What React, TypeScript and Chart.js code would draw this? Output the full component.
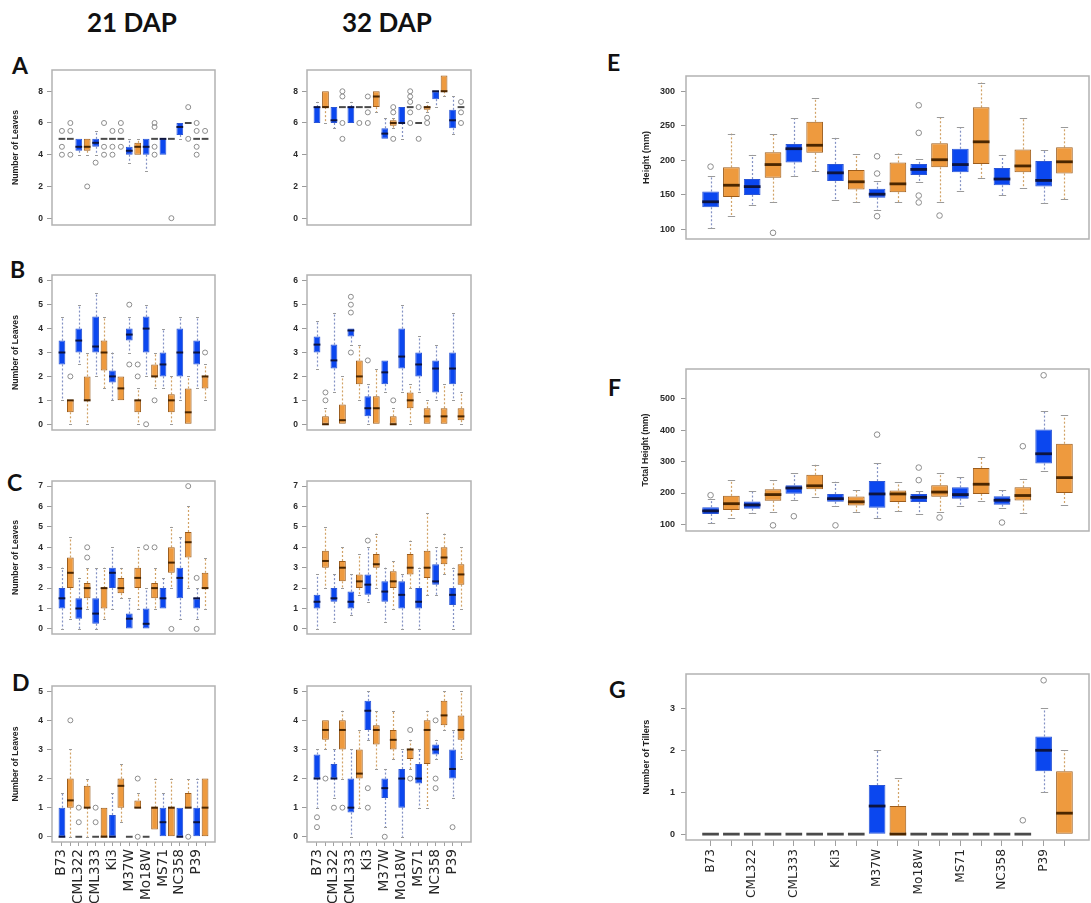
import React, { useEffect, useRef } from 'react';
import { Chart, registerables } from 'chart.js';

Chart.register(...registerables);
Chart.defaults.font.family = 'Liberation Sans';

type Box = [number, number, number, number, number]; // [low whisker, q1, median, q3, high whisker]

// Genotypes: each has a blue (control) and orange (treated) box, in that order
const genotypes = ['B73', 'CML322', 'CML333', 'Ki3', 'M37W', 'Mo18W', 'MS71', 'NC358', 'P39'];

// ---------- Panel A : Number of Leaves ----------
const leavesA21: Box[] = [
  [5, 5, 5, 5, 5], [5, 5, 5, 5, 5], [4, 4.25, 4.5, 5, 5], [4, 4.25, 4.5, 5, 5],
  [4, 4.5, 4.75, 5, 5.5], [5, 5, 5, 5, 5], [5, 5, 5, 5, 5], [5, 5, 5, 5, 5],
  [3.5, 4, 4.25, 4.5, 5], [4, 4, 4.5, 4.75, 5], [3, 4, 4.5, 5, 5], [5, 5, 5, 5, 5],
  [4, 4, 5, 5, 5], [5, 5, 5, 5, 5], [5, 5.25, 5.75, 6, 6], [6, 6, 6, 6, 6],
  [5, 5, 5, 5, 5], [5, 5, 5, 5, 5],
];
const outA21: number[][] = [
  [5.5, 4.5, 4], [6, 5.5, 4], [], [2], [3.5], [6, 4.5, 4], [5.5, 4.5, 4], [6, 5.5, 4.5],
  [], [], [], [6, 5.75, 4.5, 4], [], [0], [], [7, 5], [6, 5.5, 4.5, 4], [5.5],
];
const leavesA32: Box[] = [
  [6, 6, 7, 7, 7.33], [6, 7, 7, 8, 8], [5.67, 6, 6.17, 7, 7], [7, 7, 7, 7, 7],
  [6, 6, 7, 7, 7.33], [7, 7, 7, 7, 7], [7, 7, 7, 7, 7], [6.67, 7, 7.67, 8, 8],
  [5, 5, 5.33, 5.67, 6.33], [5.67, 5.83, 6, 6.17, 6.33], [5, 6, 6, 7, 7], [7, 7, 7, 7, 7],
  [6, 6, 6, 6, 6], [6.67, 6.83, 7, 7, 7.33], [7, 7.5, 8, 8, 8], [7.67, 8, 8, 9, 9],
  [5.33, 5.67, 6.17, 6.83, 7.67], [7, 7, 7, 7, 7],
];
const outA32: number[][] = [
  [], [], [], [8, 7.67, 6, 5], [], [6], [7.67, 6.67, 6], [], [], [7, 6.67, 5], [],
  [8, 7.67, 7.33, 6.67, 6], [7, 5], [6.33, 6], [], [], [], [7.33, 6.67, 6],
];

// ---------- Panel B ----------
const leavesB21: Box[] = [
  [1, 2.5, 3, 3.5, 4.5], [0, 0.5, 1, 1, 1], [2.5, 3, 3.5, 4, 5], [0, 1, 1, 2, 3],
  [2, 3, 3.25, 4.5, 5.5], [1.5, 2.25, 3, 3.5, 4.5], [1, 1.75, 2, 2.25, 3], [1, 1, 1.5, 2, 2],
  [3, 3.5, 3.75, 4, 4.5], [0, 0.5, 1, 1, 1.5], [2, 3, 4, 4.5, 5], [1.5, 2, 2, 2.5, 3],
  [1.5, 2, 2.5, 3, 4], [0, 0.5, 1, 1.25, 2], [1, 2, 3, 4, 4.5], [0, 0, 0.5, 1.5, 2],
  [1.5, 2.5, 3, 3.5, 4.5], [1, 1.5, 2, 2, 2.5],
];
const outB21: number[][] = [
  [], [2], [], [], [], [], [], [], [5, 2.5], [2.5, 2], [0], [1], [], [], [], [], [], [3],
];
const leavesB32: Box[] = [
  [2.33, 3, 3.33, 3.67, 4.33], [0, 0, 0, 0.33, 0.67], [1.33, 2.33, 2.67, 3.33, 4.67], [0, 0, 0.17, 0.83, 2],
  [3.33, 3.67, 3.92, 4, 4], [1, 1.67, 2, 2.67, 3.33], [0, 0.33, 0.67, 1.17, 1.67], [0, 0, 0.67, 1.17, 2.33],
  [1.33, 1.67, 2.17, 2.67, 2.67], [0, 0, 0, 0.33, 0.67], [1.33, 2.33, 2.83, 4, 5], [0, 0.67, 1, 1.33, 1.67],
  [1.33, 2, 2.5, 3, 3.67], [0, 0, 0.33, 0.67, 1], [1, 1.33, 2.33, 2.67, 3.33], [0, 0, 0.33, 0.67, 1.67],
  [1, 1.67, 2.33, 3, 4.67], [0, 0.17, 0.33, 0.67, 1.33],
];
const outB32: number[][] = [
  [], [1.33, 1], [], [], [5.33, 5, 4.67, 3], [], [2.67], [], [], [1], [], [], [], [], [], [], [], [],
];

// ---------- Panel C ----------
const leavesC21: Box[] = [
  [0, 1, 1.5, 2, 3], [0.5, 2, 2.75, 3.5, 4.5], [0, 0.5, 1, 1.5, 2.5], [1, 1.5, 2, 2.25, 3],
  [0, 0.25, 0.75, 1.5, 3], [0.5, 1, 2, 2, 3], [1, 2, 2.75, 3, 4], [1.5, 1.75, 2, 2.5, 3],
  [0, 0, 0.5, 0.75, 1.5], [1, 2, 2.5, 3, 4], [0, 0, 0.25, 1, 2], [1, 1.5, 2, 2.25, 3],
  [1, 1, 1.5, 2, 2.5], [2, 2.75, 3.25, 4, 5], [0.5, 1.5, 2.5, 3, 4.5], [2, 3.5, 4.25, 4.75, 6],
  [0.5, 1, 1.5, 1.5, 2], [1, 2, 2, 2.75, 3.5],
];
const outC21: number[][] = [
  [], [], [], [4, 3.5], [], [], [], [], [], [], [4], [4], [], [0], [], [7], [2.5, 0], [],
];
const leavesC32: Box[] = [
  [0, 1, 1.33, 1.67, 2.67], [2, 3, 3.33, 3.83, 5], [0.33, 1.33, 1.5, 2, 2.67], [2, 2.33, 3, 3.33, 4],
  [0.67, 1, 1.33, 1.83, 2.67], [1.67, 2, 2.33, 2.67, 3.67], [1.33, 1.67, 2.17, 2.67, 4], [2, 3, 3.17, 3.67, 4.67],
  [0.33, 1.33, 1.83, 2.33, 3], [1, 2, 2.33, 2.83, 3.33], [0, 1, 1.67, 2.33, 2.67], [2, 2.67, 3, 3.67, 4.33],
  [0, 1, 1.33, 2, 3], [1.67, 2.5, 3, 3.83, 5.67], [1.67, 2.17, 2.33, 3.17, 4], [2.67, 3.17, 3.5, 4, 4.67],
  [0, 1.17, 1.67, 2, 3], [1, 2.17, 2.67, 3.17, 4],
];
const outC32: number[][] = [
  [], [], [], [], [], [], [4.33], [], [], [], [], [], [], [], [], [], [], [],
];

// ---------- Panel D ----------
const leavesD21: Box[] = [
  [0, 0, 0, 1, 1.5], [0, 1, 1.25, 2, 3], [0, 0, 0, 0, 0], [0, 1, 1, 1.75, 2],
  [0, 0, 0, 0, 0], [0, 0, 0, 1, 1], [0, 0, 0, 0.75, 1.5], [0.5, 1, 1.75, 2, 2.5],
  [0, 0, 0, 0, 0], [1, 1, 1, 1.25, 1.5], [0, 0, 0, 0, 0], [0.25, 0.25, 1, 1, 2],
  [0, 0, 0.5, 1, 1.5], [0, 0, 1, 1, 2], [0, 0, 0, 1, 1], [1, 1, 1, 1.5, 2],
  [0, 0, 0.5, 1, 2], [0, 0, 1, 2, 2],
];
const outD21: number[][] = [
  [], [4], [1, 0.5], [], [1, 0.5], [], [], [], [], [2, 0], [], [], [], [], [], [0], [], [],
];
const leavesD32: Box[] = [
  [1, 2, 2, 2.83, 3], [3, 3.33, 3.67, 4, 4], [1.33, 2, 2, 2.5, 3], [2, 3, 3.67, 4, 4.33],
  [0, 0.83, 1, 2, 3], [1, 2, 2.17, 3, 3.67], [3.33, 3.67, 4.33, 4.67, 5], [2.33, 3.17, 3.67, 3.83, 4.33],
  [0.33, 1.33, 1.67, 2, 2.33], [2.67, 3, 3.33, 3.67, 4.33], [0, 1, 2, 2.33, 3], [2.33, 2.67, 3, 3, 3.33],
  [1, 1.83, 2, 2.5, 3], [1, 2.5, 3.67, 4, 4.33], [2.67, 2.83, 3, 3.17, 3.33], [3.67, 3.83, 4.17, 4.67, 5],
  [1.33, 2, 2.33, 3, 3.67], [2.67, 3.33, 3.67, 4.17, 5],
];
const outD32: number[][] = [
  [0.67, 0.33], [2], [1], [1], [], [], [1.67, 1], [], [0], [], [], [3.67, 2], [], [], [4, 2, 1.67], [], [0.33], [],
];

// ---------- Panel E : Height (mm) ----------
const heightE: Box[] = [
  [102, 132, 140, 155, 178], [119, 147, 164, 190, 239], [136, 150, 162, 173, 208], [139, 175, 194, 212, 238],
  [178, 197, 217, 224, 261], [184, 211, 222, 256, 290], [142, 170, 182, 195, 233], [139, 158, 169, 186, 209],
  [128, 146, 151, 159, 170], [139, 154, 166, 197, 210], [168, 179, 187, 195, 202], [140, 190, 201, 225, 263],
  [155, 183, 194, 217, 248], [175, 195, 227, 277, 313], [150, 164, 173, 189, 208], [160, 183, 192, 216, 261],
  [138, 162, 171, 199, 215], [144, 181, 198, 219, 248],
];
const outE: number[][] = [
  [191], [], [], [95], [], [], [], [], [206, 181, 119], [], [280, 240, 149, 139], [120], [], [], [], [], [], [],
];

// ---------- Panel F : Total Height (mm) ----------
const totalF: Box[] = [
  [104, 133, 143, 155, 181], [121, 146, 166, 191, 241], [136, 150, 162, 173, 208], [139, 175, 195, 212, 240],
  [179, 198, 216, 225, 263], [186, 212, 223, 258, 290], [158, 172, 182, 197, 236], [140, 160, 172, 189, 210],
  [120, 153, 197, 238, 294], [143, 171, 197, 208, 234], [133, 171, 186, 197, 205], [141, 188, 203, 225, 264],
  [158, 182, 195, 218, 251], [176, 197, 228, 280, 316], [153, 163, 177, 190, 210], [136, 176, 192, 218, 245],
  [271, 294, 325, 402, 461], [161, 200, 249, 357, 447],
];
const outF: number[][] = [
  [193], [], [], [97], [126], [], [97], [], [386], [], [281, 241], [122], [], [], [106], [349], [575], [],
];

// ---------- Panel G : Number of Tillers ----------
const tillersG: Box[] = [
  [0, 0, 0, 0, 0], [0, 0, 0, 0, 0], [0, 0, 0, 0, 0], [0, 0, 0, 0, 0],
  [0, 0, 0, 0, 0], [0, 0, 0, 0, 0], [0, 0, 0, 0, 0], [0, 0, 0, 0, 0],
  [0, 0, 0.67, 1.17, 2], [0, 0, 0, 0.67, 1.33], [0, 0, 0, 0, 0], [0, 0, 0, 0, 0],
  [0, 0, 0, 0, 0], [0, 0, 0, 0, 0], [0, 0, 0, 0, 0], [0, 0, 0, 0, 0],
  [1, 1.5, 2, 2.33, 3], [0, 0, 0.5, 1.5, 2],
];
const outG: number[][] = [
  [], [], [], [], [], [], [], [], [], [], [], [], [], [], [], [0.33], [3.67], [],
];

// y-axis tick values
const ticksA = [0, 2, 4, 6, 8];
const ticksB = [0, 1, 2, 3, 4, 5, 6];
const ticksC = [0, 1, 2, 3, 4, 5, 6, 7];
const ticksD = [0, 1, 2, 3, 4, 5];
const ticksE = [100, 150, 200, 250, 300];
const ticksF = [100, 200, 300, 400, 500];
const ticksG = [0, 1, 2, 3];

// ---------- styles ----------
const BLUE = '#0b47ef';
const BLUE_EDGE = '#2a55d6';
const ORANGE = '#ee9a3e';
const ORANGE_EDGE = '#9c5c1c';
const WH_BLUE = '#8391c4';
const WH_ORANGE = '#d1a266';

// font size that makes `text` span `target` px in the given font
function fitSize(text: string, target: number, family: string, weight: string): number {
  const c = document.createElement('canvas').getContext('2d');
  if (!c) return 12;
  c.font = `${weight} 20px ${family}`;
  const w = c.measureText(text).width || 1;
  return (20 * target) / w;
}

interface PanelProps {
  stats: Box[];
  outliers: number[][];
  frameLeft: number;
  frameTop: number;
  frameW: number;
  frameH: number;
  yMin: number;
  yMax: number;
  yTicks: number[];
  yTitle?: string;
  yTitleLen?: number;
  axisW: number;
  titleCenter?: number;
  tickPad: number;
  tickSize?: number;
  xLabels?: boolean;
  xTickLen?: number;
  xTextLen?: number;
  big?: boolean;
}

function Panel(p: PanelProps) {
  const ref = useRef<HTMLCanvasElement>(null);
  const padTop = 3;
  const padRight = 3;
  const labels = !!p.xLabels;
  const bottomH = labels ? 72 : 3;
  const cw = p.axisW + p.frameW + padRight;
  const ch = padTop + p.frameH + bottomH;

  useEffect(() => {
    const { stats, outliers, big } = p;
    const medW = big ? 2.8 : 2;
    const xFam = '"DejaVu Sans"';
    const xSize = labels ? fitSize('CML322', p.xTextLen || 52, xFam, 'normal') : 12;
    const tSize = p.yTitle ? fitSize(p.yTitle, p.yTitleLen || 75, '"Liberation Sans"', 'bold') : 9;
    const tLine = tSize * 1.2;
    const titlePad = p.yTitle ? (p.titleCenter || 0) - tLine / 2 : 0;

    const plugin = {
      id: 'boxWhisk',
      beforeDatasetsDraw(chart: any) {
        const { ctx } = chart;
        const x = chart.scales.x;
        const y = chart.scales.y;
        const bw = 0.8 * Math.abs(x.getPixelForValue(1) - x.getPixelForValue(0));
        const capHalf = bw * 0.22;
        ctx.save();
        stats.forEach((s, i) => {
          const px = Math.round(x.getPixelForValue(i)) + 0.5;
          const col = i % 2 === 0 ? WH_BLUE : WH_ORANGE;
          const segs: [number, number][] = [];
          if (s[0] < s[1]) segs.push([s[0], s[1]]);
          if (s[4] > s[3]) segs.push([s[4], s[3]]);
          segs.forEach(([end, start]) => {
            ctx.setLineDash([2, 2]);
            ctx.strokeStyle = col;
            ctx.lineWidth = 1.2;
            ctx.beginPath();
            ctx.moveTo(px, y.getPixelForValue(start));
            ctx.lineTo(px, y.getPixelForValue(end));
            ctx.stroke();
            ctx.setLineDash([]);
            ctx.strokeStyle = '#9a9a9a';
            ctx.lineWidth = 1;
            ctx.beginPath();
            const ey = Math.round(y.getPixelForValue(end)) + 0.5;
            ctx.moveTo(px - capHalf, ey);
            ctx.lineTo(px + capHalf, ey);
            ctx.stroke();
          });
        });
        ctx.restore();
      },
      afterDatasetsDraw(chart: any) {
        const { ctx, chartArea } = chart;
        const x = chart.scales.x;
        const y = chart.scales.y;
        const bw = 0.8 * Math.abs(x.getPixelForValue(1) - x.getPixelForValue(0));
        ctx.save();
        stats.forEach((s, i) => {
          const px = x.getPixelForValue(i);
          const flat = s[1] === s[3];
          ctx.strokeStyle = flat ? '#4a4a4a' : i % 2 === 0 ? '#0d1440' : '#4a2600';
          ctx.lineWidth = medW;
          ctx.beginPath();
          const my = y.getPixelForValue(s[2]);
          ctx.moveTo(px - bw / 2, my);
          ctx.lineTo(px + bw / 2, my);
          ctx.stroke();
        });
        ctx.strokeStyle = '#b2b2b2';
        ctx.lineWidth = 1.5;
        ctx.strokeRect(chartArea.left, chartArea.top, chartArea.right - chartArea.left, chartArea.bottom - chartArea.top);
        ctx.restore();
      },
    };

    const boxData = stats.map((s, i) => ({ x: i, y: [s[1], s[3]] }));
    const outData = outliers.flatMap((arr, i) => arr.map((v) => ({ x: i, y: v })));
    const xTicks = stats.map((_, i) => i);

    const chart = new Chart(ref.current as HTMLCanvasElement, {
      type: 'bar',
      data: {
        datasets: [
          {
            type: 'bar',
            data: boxData as any,
            backgroundColor: stats.map((_, i) => (i % 2 === 0 ? BLUE : ORANGE)),
            borderColor: stats.map((_, i) => (i % 2 === 0 ? BLUE_EDGE : ORANGE_EDGE)),
            borderWidth: 1,
            borderSkipped: false,
            barPercentage: 0.8,
            categoryPercentage: 1,
          } as any,
          {
            type: 'scatter',
            data: outData as any,
            pointRadius: big ? 2.8 : 2.5,
            pointBorderColor: '#8c8c8c',
            pointBackgroundColor: 'rgba(0,0,0,0)',
            pointBorderWidth: 1,
            showLine: false,
          } as any,
        ],
      },
      options: {
        responsive: false,
        animation: false,
        events: [],
        layout: { padding: { top: padTop, right: padRight, left: 0, bottom: labels ? 0 : 3 } },
        plugins: { legend: { display: false }, tooltip: { enabled: false } },
        scales: {
          x: {
            type: 'linear',
            min: -1.18,
            max: 18.18,
            offset: false,
            display: labels,
            grid: {
              display: labels,
              drawOnChartArea: false,
              drawTicks: labels,
              tickLength: p.xTickLen || 5,
              color: '#a0a0a0',
              offset: false,
            },
            border: { display: false },
            afterBuildTicks: (scale: any) => {
              scale.ticks = xTicks.map((v) => ({ value: v }));
            },
            afterFit: (scale: any) => {
              scale.height = bottomH;
              scale.paddingLeft = 0;
              scale.paddingRight = 0;
            },
            ticks: {
              autoSkip: false,
              maxRotation: 90,
              minRotation: 90,
              padding: 3,
              color: '#262626',
              font: { size: xSize, family: xFam },
              callback: (v: any) => {
                const i = Math.round(Number(v));
                return i % 2 === 0 ? genotypes[i / 2] : '';
              },
            },
          },
          y: {
            type: 'linear',
            min: p.yMin,
            max: p.yMax,
            grid: { display: true, drawOnChartArea: false, drawTicks: true, tickLength: 5, color: '#9a9a9a' },
            border: { display: false },
            afterBuildTicks: (scale: any) => {
              scale.ticks = p.yTicks.map((v) => ({ value: v }));
            },
            afterFit: (scale: any) => {
              scale.width = p.axisW;
              scale.paddingTop = 0;
              scale.paddingBottom = 0;
            },
            ticks: {
              padding: p.tickPad,
              color: '#2a2a2a',
              font: { size: p.tickSize || 8.5, weight: 'bold', family: 'Liberation Sans' },
            },
            title: {
              display: !!p.yTitle,
              text: p.yTitle || '',
              color: '#222',
              font: { size: tSize, weight: 'bold', family: 'Liberation Sans' },
              padding: { top: titlePad, bottom: 0 },
            },
          },
        },
      } as any,
      plugins: [plugin],
    });
    return () => chart.destroy();
  }, []);

  return (
    <canvas
      ref={ref}
      width={cw}
      height={ch}
      style={{ position: 'absolute', left: p.frameLeft - p.axisW, top: p.frameTop - padTop, width: cw, height: ch }}
    />
  );
}

const letterStyle = (left: number, top: number, size = 23): React.CSSProperties => ({
  position: 'absolute',
  left,
  top,
  fontFamily: 'Lato, "Open Sans", sans-serif',
  fontWeight: 700,
  fontSize: size,
  lineHeight: 1,
  color: '#111',
});

export default function App() {
  const L = { frameLeft: 52, frameW: 165, axisW: 52, titleCenter: 16, tickPad: 4 };
  const M = { frameLeft: 307, frameW: 166, axisW: 40, tickPad: 4 };
  const R = { frameLeft: 686, frameW: 405, axisW: 60, titleCenter: 20, tickPad: 6, tickSize: 9, big: true };
  const leaves = 'Number of Leaves';
  return (
    <div
      style={{
        position: 'fixed',
        left: 0,
        top: 0,
        width: 1091,
        height: 903,
        overflow: 'hidden',
        background: '#fff',
      }}
    >
      <div style={letterStyle(87, 9, 26)}>21 DAP</div>
      <div style={letterStyle(342, 9, 26)}>32 DAP</div>
      <div style={letterStyle(12, 54)}>A</div>
      <div style={letterStyle(10, 258)}>B</div>
      <div style={letterStyle(7, 471)}>C</div>
      <div style={letterStyle(12, 671)}>D</div>
      <div style={letterStyle(607, 51)}>E</div>
      <div style={letterStyle(608, 376)}>F</div>
      <div style={letterStyle(609, 678)}>G</div>

      <Panel {...L} frameTop={68} frameH={160} stats={leavesA21} outliers={outA21} yMin={-0.43} yMax={9.34} yTicks={ticksA} yTitle={leaves} yTitleLen={75} />
      <Panel {...M} frameTop={68} frameH={160} stats={leavesA32} outliers={outA32} yMin={-0.43} yMax={9.34} yTicks={ticksA} />
      <Panel {...L} frameTop={273} frameH={160} stats={leavesB21} outliers={outB21} yMin={-0.24} yMax={6.24} yTicks={ticksB} yTitle={leaves} yTitleLen={75} />
      <Panel {...M} frameTop={273} frameH={160} stats={leavesB32} outliers={outB32} yMin={-0.24} yMax={6.24} yTicks={ticksB} />
      <Panel {...L} frameTop={479} frameH={158} stats={leavesC21} outliers={outC21} yMin={-0.25} yMax={7.25} yTicks={ticksC} yTitle={leaves} yTitleLen={75} />
      <Panel {...M} frameTop={479} frameH={158} stats={leavesC32} outliers={outC32} yMin={-0.25} yMax={7.25} yTicks={ticksC} />
      <Panel {...L} frameTop={684} frameH={158} stats={leavesD21} outliers={outD21} yMin={-0.18} yMax={5.18} yTicks={ticksD} yTitle={leaves} yTitleLen={75} xLabels xTickLen={4} xTextLen={55} />
      <Panel {...M} frameTop={684} frameH={158} stats={leavesD32} outliers={outD32} yMin={-0.18} yMax={5.18} yTicks={ticksD} xLabels xTickLen={4} xTextLen={55} />

      <Panel {...R} frameTop={74} frameH={168} stats={heightE} outliers={outE} yMin={86} yMax={322.5} yTicks={ticksE} yTitle="Height (mm)" yTitleLen={53} />
      <Panel {...R} frameTop={367} frameH={167} stats={totalF} outliers={outF} yMin={79} yMax={595} yTicks={ticksF} yTitle="Total Height (mm)" yTitleLen={73} />
      <Panel {...R} frameTop={672} frameH={168} stats={tillersG} outliers={outG} yMin={-0.14} yMax={3.82} yTicks={ticksG} yTitle="Number of Tillers" yTitleLen={75} xLabels xTickLen={6} xTextLen={49} />
    </div>
  );
}
